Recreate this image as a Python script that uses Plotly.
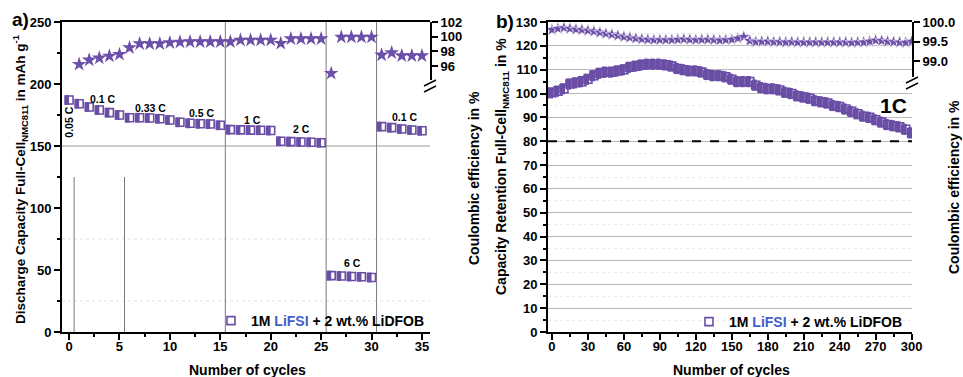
import plotly.graph_objects as go

# ---------------- data ----------------
# panel a: rate test
cycles_a = list(range(0, 36))
capacity_a = [187.1, 184.1, 181.5, 179.0, 176.9, 175.0,
              172.8, 172.8, 172.6, 172.0, 171.0,
              169.1, 168.3, 168.0, 167.7, 166.7,
              163.2, 163.0, 162.8, 162.7, 162.5,
              153.8, 153.5, 153.2, 153.0, 152.6,
              45.5, 45.2, 44.8, 44.5, 44.0,
              165.6, 164.8, 163.7, 162.9, 162.3]
ce_cycles_a = list(range(1, 36))
ce_a = [96.23, 96.82, 97.09, 97.36, 97.59,
        98.49, 99.04, 99.04, 99.04, 99.18,
        99.27, 99.31, 99.31, 99.31, 99.31,
        99.31, 99.54, 99.54, 99.54, 99.54,
        99.09, 99.72, 99.72, 99.72, 99.72,
        95.00, 99.95, 99.95, 99.95, 99.95,
        97.50, 97.81, 97.40, 97.40, 97.40]
rate_labels = ["0.1 C", "0.33 C", "0.5 C", "1 C", "2 C", "6 C", "0.1 C"]
rate_label_x = [3.4, 8.1, 13.2, 18.2, 23.1, 28.1, 33.3]
rate_label_y = [188, 180.6, 176.9, 171, 163.7, 55.6, 173.4]
first_rate_label = "0.05 C"
rate_boundaries_full = [15.5, 25.5, 30.5]
rate_boundaries_short = [0.5, 5.5]
short_boundary_top = 125

# panel b: long-term cycling at 1C
cycles_b = list(range(0, 301, 5))
retention_b = [100.3, 101.0, 102.0, 104.0, 104.5, 105.0, 106.0, 107.5, 108.5, 109.0,
               109.0, 109.5, 110.0, 111.0, 111.5, 112.0, 112.3, 112.3, 112.3, 112.0,
               111.5, 110.5, 110.0, 109.5, 109.5, 109.0, 108.0, 107.5, 107.5, 107.0,
               106.0, 105.0, 105.0, 105.0, 103.5, 102.5, 102.0, 102.0, 101.5, 100.5,
               100.0, 99.0, 98.5, 98.0, 97.0, 96.5, 96.0, 95.0, 94.5, 93.5,
               92.5, 91.5, 90.5, 90.0, 89.0, 88.0, 87.0, 86.5, 86.0, 85.0,
               83.5]
ce_b = [99.80, 99.83, 99.85, 99.83, 99.81, 99.80, 99.78, 99.76, 99.73, 99.70,
        99.68, 99.65, 99.62, 99.60, 99.58, 99.56, 99.55, 99.54, 99.54, 99.54,
        99.54, 99.55, 99.56, 99.55, 99.54, 99.55, 99.55, 99.54, 99.53, 99.54,
        99.55, 99.58, 99.62, 99.52, 99.49, 99.50, 99.50, 99.49, 99.49, 99.48,
        99.49, 99.48, 99.48, 99.48, 99.48, 99.48, 99.48, 99.48, 99.48, 99.48,
        99.47, 99.48, 99.48, 99.50, 99.53, 99.52, 99.50, 99.49, 99.48, 99.47,
        99.50]
retention_limit = 80

legend_name = "1M <span style='color:#3f5fc8'>LiFSI</span> + 2 wt.% LiDFOB"

# ---------------- style ----------------
W, H = 963, 377
PURPLE = "#6a4ea6"
STAR = "#6c4fa8"
FONT = "Liberation Sans, Arial, sans-serif"


def px(x):
    return x / W


def py(y):
    return 1 - y / H


fig = go.Figure()

# panel a squares
fig.add_trace(go.Scatter(x=cycles_a, y=capacity_a, mode="markers", xaxis="x", yaxis="y",
                         marker=dict(symbol="square", size=8, color="white",
                                     line=dict(color=PURPLE, width=1.6)),
                         name=legend_name, showlegend=True, legend="legend"))
fig.add_trace(go.Scatter(x=[c - 0.2 for c in cycles_a], y=capacity_a, mode="markers",
                         xaxis="x", yaxis="y", showlegend=False,
                         marker=dict(symbol="line-ns", size=7,
                                     line=dict(color=PURPLE, width=4))))
fig.add_trace(go.Scatter(x=ce_cycles_a, y=ce_a, mode="markers", xaxis="x", yaxis="y3",
                         showlegend=False,
                         marker=dict(symbol="star", size=11, color=STAR,
                                     line=dict(color=STAR, width=0))))

# panel b
fig.add_trace(go.Scatter(x=cycles_b, y=retention_b, mode="markers", xaxis="x2", yaxis="y4",
                         marker=dict(symbol="square", size=8, color="white",
                                     line=dict(color=PURPLE, width=1.6)),
                         name=legend_name, showlegend=True, legend="legend2"))
fig.add_trace(go.Scatter(x=[c - 1.2 for c in cycles_b], y=retention_b, mode="markers",
                         xaxis="x2", yaxis="y4", showlegend=False,
                         marker=dict(symbol="line-ns", size=8,
                                     line=dict(color=PURPLE, width=5))))
fig.add_trace(go.Scatter(x=cycles_b, y=ce_b, mode="markers", xaxis="x2", yaxis="y6",
                         showlegend=False,
                         marker=dict(symbol="star", size=10, color=STAR,
                                     line=dict(color="white", width=0.6))))

tickfont = dict(family=FONT, size=13, color="black", weight="bold")
common = dict(showline=True, linecolor="black", linewidth=2, ticks="outside",
              ticklen=6, tickwidth=1.8, tickcolor="black", tickfont=tickfont,
              zeroline=False, showgrid=False, automargin=False)
minor = dict(ticks="outside", ticklen=3, tickwidth=1.5, tickcolor="black")

xa_dom = [px(62), px(430)]
xb_dom = [px(548), px(912)]
y_dom = [py(332), py(22)]

fig.update_layout(
    width=W, height=H, margin=dict(l=0, r=0, t=0, b=0),
    paper_bgcolor="white", plot_bgcolor="rgba(0,0,0,0)",
    font=dict(family=FONT, color="black"),
    xaxis=dict(domain=xa_dom, range=[-0.7, 35.8], anchor="y", dtick=5, tick0=0,
               mirror=True, ticklabelstandoff=-5, minor=dict(dtick=2.5, **minor), **common),
    yaxis=dict(domain=y_dom, range=[0, 250], anchor="x", dtick=50,
               minor=dict(dtick=25, **minor), **common),
    yaxis2=dict(domain=[py(332), py(92)], range=[0, 43.8], anchor="x", side="right",
                dtick=10, minor=dict(dtick=5, **minor), **common),
    yaxis3=dict(domain=[py(80), py(22)], range=[94.09, 102], anchor="x", side="right",
                tickvals=[96, 98, 100, 102], **common),
    xaxis2=dict(domain=xb_dom, range=[-3.3, 300.3], anchor="y4", dtick=30, tick0=0,
                mirror=True, ticklabelstandoff=-5, minor=dict(dtick=15, **minor), **common),
    yaxis4=dict(domain=y_dom, range=[0, 130], anchor="x2", dtick=10,
                minor=dict(dtick=5, showgrid=True, gridcolor="#ececec", griddash="dot", **minor),
                **{**common, "showgrid": True, "gridcolor": "#b9b9b9", "gridwidth": 1}),
    yaxis5=dict(domain=[py(332), py(89)], range=[0, 42.4], anchor="x2", side="right",
                dtick=5, minor=dict(dtick=2.5, **minor), **common),
    yaxis6=dict(domain=[py(77), py(22)], range=[98.59, 100.0], anchor="x2", side="right",
                tickvals=[99.0, 99.5, 100.0], tickformat=".1f", **common),
    legend=dict(x=px(430), y=py(321), xanchor="right", yanchor="middle",
                bgcolor="rgba(0,0,0,0)", font=dict(family=FONT, size=14, weight="bold"),
                itemwidth=30, tracegroupgap=0),
    legend2=dict(x=px(908), y=py(322), xanchor="right", yanchor="middle",
                 bgcolor="rgba(0,0,0,0)", font=dict(family=FONT, size=14, weight="bold"),
                 itemwidth=30, tracegroupgap=0),
)

shapes = []
# panel a reference lines
shapes.append(dict(type="line", xref="x domain", yref="y", x0=0, x1=1, y0=150, y1=150,
                   line=dict(color="#9a9a9a", width=1), layer="below"))
for v in (25, 75):
    shapes.append(dict(type="line", xref="x domain", yref="y", x0=0, x1=1, y0=v, y1=v,
                       line=dict(color="#e2e2e2", width=1, dash="dot"), layer="below"))
for b in rate_boundaries_full:
    shapes.append(dict(type="line", xref="x", yref="y domain", x0=b, x1=b, y0=0, y1=1,
                       line=dict(color="#7a7a7a", width=1), layer="below"))
for b in rate_boundaries_short:
    shapes.append(dict(type="line", xref="x", yref="y", x0=b, x1=b, y0=0, y1=short_boundary_top,
                       line=dict(color="#7a7a7a", width=1), layer="below"))
# panel b 80 % limit
shapes.append(dict(type="line", xref="x2 domain", yref="y4", x0=0, x1=1,
                   y0=retention_limit, y1=retention_limit,
                   line=dict(color="black", width=2, dash="dash")))
# axis-break marks
for xb, yb in ((430, 86), (912, 83)):
    shapes.append(dict(type="rect", xref="paper", yref="paper",
                       x0=px(xb - 3), x1=px(xb + 3), y0=py(yb + 4), y1=py(yb - 4),
                       fillcolor="white", line=dict(width=0)))
    for dy in (-3, 3):
        shapes.append(dict(type="line", xref="paper", yref="paper",
                           x0=px(xb - 6), y0=py(yb + dy + 3), x1=px(xb + 6), y1=py(yb + dy - 3),
                           line=dict(color="black", width=1.5)))
fig.update_layout(shapes=shapes)

ann = []
lab_font = dict(family=FONT, size=10.5, color="black", weight="bold")
for t, x, y in zip(rate_labels, rate_label_x, rate_label_y):
    ann.append(dict(text=t, x=x, y=y, xref="x", yref="y", showarrow=False, font=lab_font))
ann.append(dict(text=first_rate_label, x=cycles_a[0], y=183, xref="x", yref="y",
                showarrow=False, textangle=-90, font=lab_font, yanchor="top"))
ann.append(dict(text="1C", x=285, y=94.8, xref="x2", yref="y4", showarrow=False,
                font=dict(family=FONT, size=21, color="black", weight="bold")))

title_font = dict(family=FONT, size=14, color="black", weight="bold")
ann += [
    dict(text="Discharge Capacity Full-Cell<sub>NMC811</sub> in mAh g<sup>-1</sup>",
         x=px(20), y=py(180), textangle=-90,
         font=dict(family=FONT, size=13.5, color="black", weight="bold")),
    dict(text="Coulombic efficiency in %", x=px(474), y=py(178),
         textangle=-90, font=title_font),
    dict(text="Capacity Retention Full-Cell<sub>NMC811</sub> in %", x=px(502), y=py(167),
         textangle=-90, font=title_font),
    dict(text="Coulombic efficiency in %", x=px(954), y=py(187),
         textangle=-90, font=title_font),
    dict(text="Number of cycles", x=px(247), y=py(370), font=title_font),
    dict(text="Number of cycles", x=px(731), y=py(370), font=title_font),
    dict(text="a)", x=px(20), y=py(20),
         font=dict(family=FONT, size=19, color="black", weight="bold")),
    dict(text="b)", x=px(505), y=py(21),
         font=dict(family=FONT, size=19, color="black", weight="bold")),
]
for a in ann[-8:]:
    a.update(xref="paper", yref="paper", showarrow=False, xanchor="center", yanchor="middle")
fig.update_layout(annotations=ann)

fig.write_html("out.html", config={"displayModeBar": False},
               post_script="document.body.style.margin='0px';document.body.style.padding='0px';")
